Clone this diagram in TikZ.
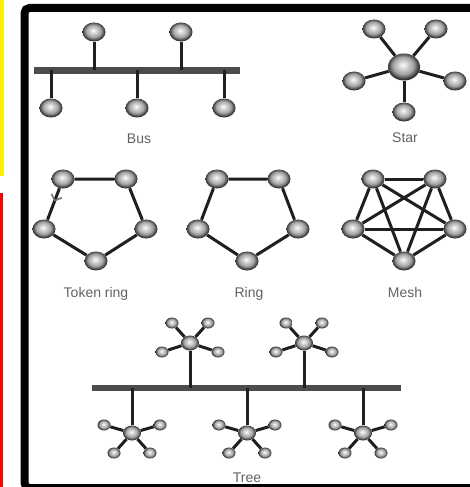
\documentclass[tikz,border=0pt]{standalone}
\usepackage{fontspec}
\setmainfont{Liberation Sans}
\usetikzlibrary{shapes.geometric, arrows.meta, decorations.markings, calc}

% Заливка узлов-шариков
\pgfdeclareradialshading{knot}{\pgfpoint{-2bp}{4bp}}{color(0bp)=(white); color(5bp)=(gray!25); color(16bp)=(gray!72); color(25bp)=(gray!35!black); color(50bp)=(gray!35!black)}

\begin{document}
\begin{tikzpicture}[x=1pt, y=-1pt,
    host/.style={ellipse, shading=knot, minimum width=23pt, minimum height=19pt, inner sep=0pt},
    bighost/.style={host, minimum width=32pt, minimum height=27pt},
    hub/.style={host, minimum width=18pt, minimum height=15pt},
    leaf/.style={host, minimum width=13pt, minimum height=11pt},
    link/.style={draw=black!88, line width=3pt},
    trunk/.style={draw=black!70, line width=6pt},
    netname/.style={text=black!62, anchor=base, font=\fontsize{14}{16}\selectfont}]

    % Рамка и цветные полосы слева
    \path[use as bounding box] (0,0) rectangle (470,487);
    \clip (0,0) rectangle (470,487);
    \fill[yellow] (0,0) rectangle (4,176);
    \fill[red] (0,193) rectangle (3,487);
    \draw[line width=8pt, rounded corners=5pt] (24.5,8) rectangle (476,488);

    % Шина
    \coordinate (busL) at (34,70.5);
    \coordinate (busR) at (240,70.5);
    \draw[trunk] (busL) -- (busR);
    \node[host] (bus1) at (94,32) {};
    \node[host] (bus2) at (181,32) {};
    \node[host] (bus3) at (51,108) {};
    \node[host] (bus4) at (137,108) {};
    \node[host] (bus5) at (224,108) {};
    \foreach \n in {1,...,5} \draw[link] (bus\n) -- (bus\n |- busL);
    \node[netname] (busT) at (139,143) {Bus};

    % Звезда
    \node[bighost] (starC) at (404,67) {};
    \node[host] (star1) at (374,29) {};
    \node[host] (star2) at (436,29) {};
    \node[host] (star3) at (354,81) {};
    \node[host] (star4) at (455,81) {};
    \node[host] (star5) at (404,112) {};
    \foreach \n in {1,...,5} \draw[link] (starC) -- (star\n);
    \node[netname] (starT) at (405,142) {Star};

    % Маркерное кольцо
    \node[host] (tok1) at (63,179) {};
    \node[host] (tok2) at (126,179) {};
    \node[host] (tok3) at (146,229) {};
    \node[host] (tok4) at (96,261) {};
    \node[host] (tok5) at (44,229) {};
    \draw[link] (tok1) -- (tok2) -- (tok3) -- (tok4) -- (tok5);
    \draw[link, postaction={decorate, decoration={markings,
        mark=at position 0.42 with {\arrow[black!55]{Straight Barb[length=5pt, width=11pt, line width=1.6pt]}}}}]
        (tok1) -- (tok5);
    \node[netname] (tokT) at (96,297) {Token ring};

    % Кольцо
    \node[host] (ring1) at (217,179) {};
    \node[host] (ring2) at (279,179) {};
    \node[host] (ring3) at (298,229) {};
    \node[host] (ring4) at (247,261) {};
    \node[host] (ring5) at (198,229) {};
    \draw[link] (ring1) -- (ring2) -- (ring3) -- (ring4) -- (ring5) -- (ring1);
    \node[netname] (ringT) at (249,297) {Ring};

    % Полносвязная сеть
    \node[host] (mesh1) at (373,179) {};
    \node[host] (mesh2) at (435,179) {};
    \node[host] (mesh3) at (455,229) {};
    \node[host] (mesh4) at (404,261) {};
    \node[host] (mesh5) at (353,229) {};
    \foreach \a/\b in {1/2,1/3,1/4,1/5,2/3,2/4,2/5,3/4,3/5,4/5}
        \draw[link] (mesh\a) -- (mesh\b);
    \node[netname] (meshT) at (405,297) {Mesh};

    % Дерево
    \coordinate (treeL) at (92,388);
    \coordinate (treeR) at (401,388);
    \draw[trunk] (treeL) -- (treeR);
    \node[hub] (tree1) at (190,343) {};
    \node[hub] (tree2) at (304,343) {};
    \node[hub] (tree3) at (132,433) {};
    \node[hub] (tree4) at (247,433) {};
    \node[hub] (tree5) at (363,433) {};
    \foreach \h in {1,...,5} \draw[link] (tree\h) -- (tree\h |- treeL);
    \foreach \h in {1,2}
        \foreach \k/\dx/\dy in {a/-18/-20, b/18/-20, c/-28/9, d/28/9} {
            \node[leaf] (tree\h\k) at ($(tree\h)+(\dx,\dy)$) {};
            \draw[link] (tree\h) -- (tree\h\k);
        }
    \foreach \h in {3,4,5}
        \foreach \k/\dx/\dy in {a/-28/-8, b/28/-8, c/-18/20, d/18/20} {
            \node[leaf] (tree\h\k) at ($(tree\h)+(\dx,\dy)$) {};
            \draw[link] (tree\h) -- (tree\h\k);
        }
    \node[netname] (treeT) at (247,482) {Tree};
\end{tikzpicture}
\end{document}
